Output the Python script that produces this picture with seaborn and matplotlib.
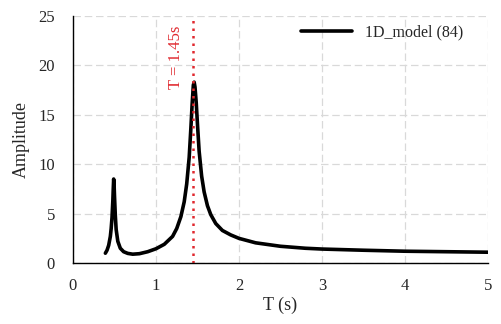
import matplotlib
matplotlib.use("Agg")
import matplotlib.pyplot as plt
import numpy as np
import pandas as pd
import seaborn as sns

# values
period = [0.39, 0.41, 0.43, 0.45, 0.46, 0.47, 0.48, 0.485, 0.49, 0.495, 0.50,
          0.51, 0.52, 0.54, 0.57, 0.61, 0.66, 0.72, 0.80, 0.90, 1.00, 1.10,
          1.20, 1.25, 1.30, 1.34, 1.37, 1.40, 1.42, 1.435, 1.45, 1.46, 1.47,
          1.485, 1.50, 1.52, 1.55, 1.58, 1.62, 1.66, 1.72, 1.80, 1.90, 2.00,
          2.20, 2.50, 2.80, 3.00, 3.50, 4.00, 4.50, 5.00]
amplitude = [1.0, 1.3, 1.8, 2.7, 3.5, 4.6, 6.3, 7.5, 8.5, 8.0, 6.8,
             4.8, 3.4, 2.2, 1.5, 1.15, 0.98, 0.9, 0.95, 1.15, 1.45, 1.9,
             2.7, 3.5, 4.7, 6.2, 8.0, 10.7, 13.6, 16.0, 18.0, 18.3, 17.8,
             16.2, 14.0, 11.3, 8.8, 7.2, 5.8, 4.9, 4.0, 3.3, 2.85, 2.5,
             2.05, 1.7, 1.5, 1.42, 1.3, 1.2, 1.15, 1.1]
series_name = "1D_model (84)"
t_marker = 1.45
marker_label = "T = 1.45s"

df = pd.DataFrame({"T": period, "A": amplitude, "series": series_name})

sns.set_style("white")
plt.rcParams["font.family"] = ["Liberation Serif", "DejaVu Serif"]

fig = plt.figure(figsize=(5.01, 3.24), dpi=100)
ax = fig.add_axes([0.1457, 0.188, 0.8283, 0.763])

sns.lineplot(data=df, x="T", y="A", hue="series", palette=["black"],
             linewidth=2.6, ax=ax, legend=True, solid_joinstyle="round")

ax.axvline(t_marker, color="#e0282e", linestyle=(0, (1, 2)), linewidth=1.8)
ax.text(t_marker - 0.21, 24.0, marker_label, rotation=90, color="#e0282e",
        ha="center", va="top", fontsize=12)

ax.set_xlim(0, 5)
ax.set_ylim(0, 25)
ax.set_xticks(range(0, 6))
ax.set_yticks(range(0, 26, 5))
ax.grid(True, color="#d9d9d9", linestyle=(0, (6, 3)), linewidth=0.9)
ax.set_axisbelow(True)
for s in ["top", "right"]:
    ax.spines[s].set_visible(False)
for s in ["left", "bottom"]:
    ax.spines[s].set_color("black")
    ax.spines[s].set_linewidth(1.0)
ax.tick_params(length=0, labelsize=12)
ax.tick_params(axis="y", pad=13)
ax.tick_params(axis="x", pad=11)
ax.set_xlabel("T (s)", fontsize=13, labelpad=2)
ax.set_ylabel("Amplitude", fontsize=13, labelpad=6)

leg = ax.legend(loc="upper right", frameon=False, fontsize=11.5,
                handlelength=3.2, borderaxespad=0.0,
                bbox_to_anchor=(0.955, 0.99))
for h in leg.get_lines():
    h.set_linewidth(2.6)

fig.savefig("out.png", dpi=100)
